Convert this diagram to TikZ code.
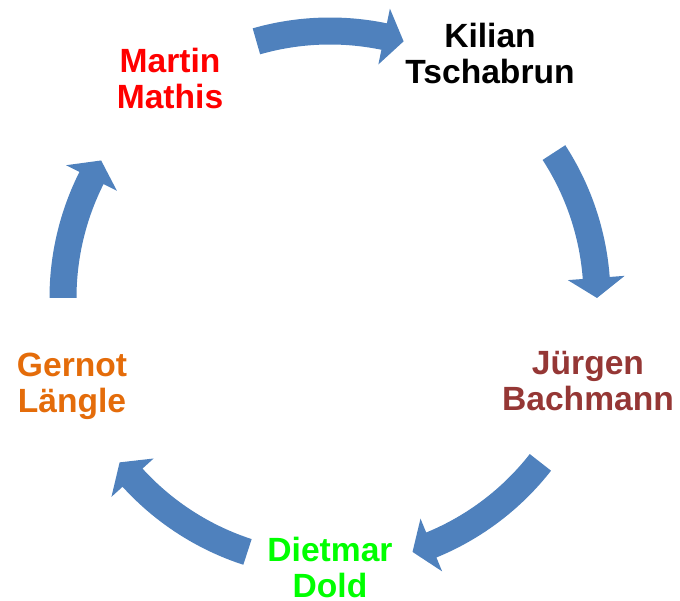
\documentclass[tikz,border=0pt]{standalone}
\usepackage{fontspec}
\setmainfont{Liberation Sans}
\definecolor{arrowblue}{HTML}{4F81BD}
\definecolor{namebrown}{HTML}{953735}
\definecolor{nameorange}{HTML}{E46C0A}
\definecolor{namegreen}{HTML}{00FF00}

\begin{document}
\begin{tikzpicture}[x=1pt,y=1pt,
  person/.style={align=center,inner sep=0pt,font=\bfseries\fontsize{33.6}{36}\selectfont}]
  \useasboundingbox (0,0) rectangle (680,601);

  % Names
  \node[person,red] (martin) at (170,522) {Martin\\Mathis};
  \node[person,black] (kilian) at (490,547) {Kilian\\Tschabrun};
  \node[person,namebrown] (juergen) at (588,219.5) {Jürgen\\Bachmann};
  \node[person,namegreen] (dietmar) at (330,34) {Dietmar\\Dold};
  \node[person,nameorange] (gernot) at (72,215) {Gernot\\Längle};

  % Cycle arrows (tail angle / tip angle)
  \foreach \ta/\pa in {106/74,33/0,-38/-72,-108/-142,180/149} {
    \pgfmathsetmacro\ba{\pa+4.3}
    \fill[arrowblue,shift={(330,303)}]
      (\ta:280.5) arc[start angle=\ta,end angle=\ba,radius=280.5]
      -- (\ba:295.5) -- (\pa:267) -- (\ba:238.5) -- (\ba:253.5)
      arc[start angle=\ba,end angle=\ta,radius=253.5] -- cycle;
  }
\end{tikzpicture}
\end{document}
